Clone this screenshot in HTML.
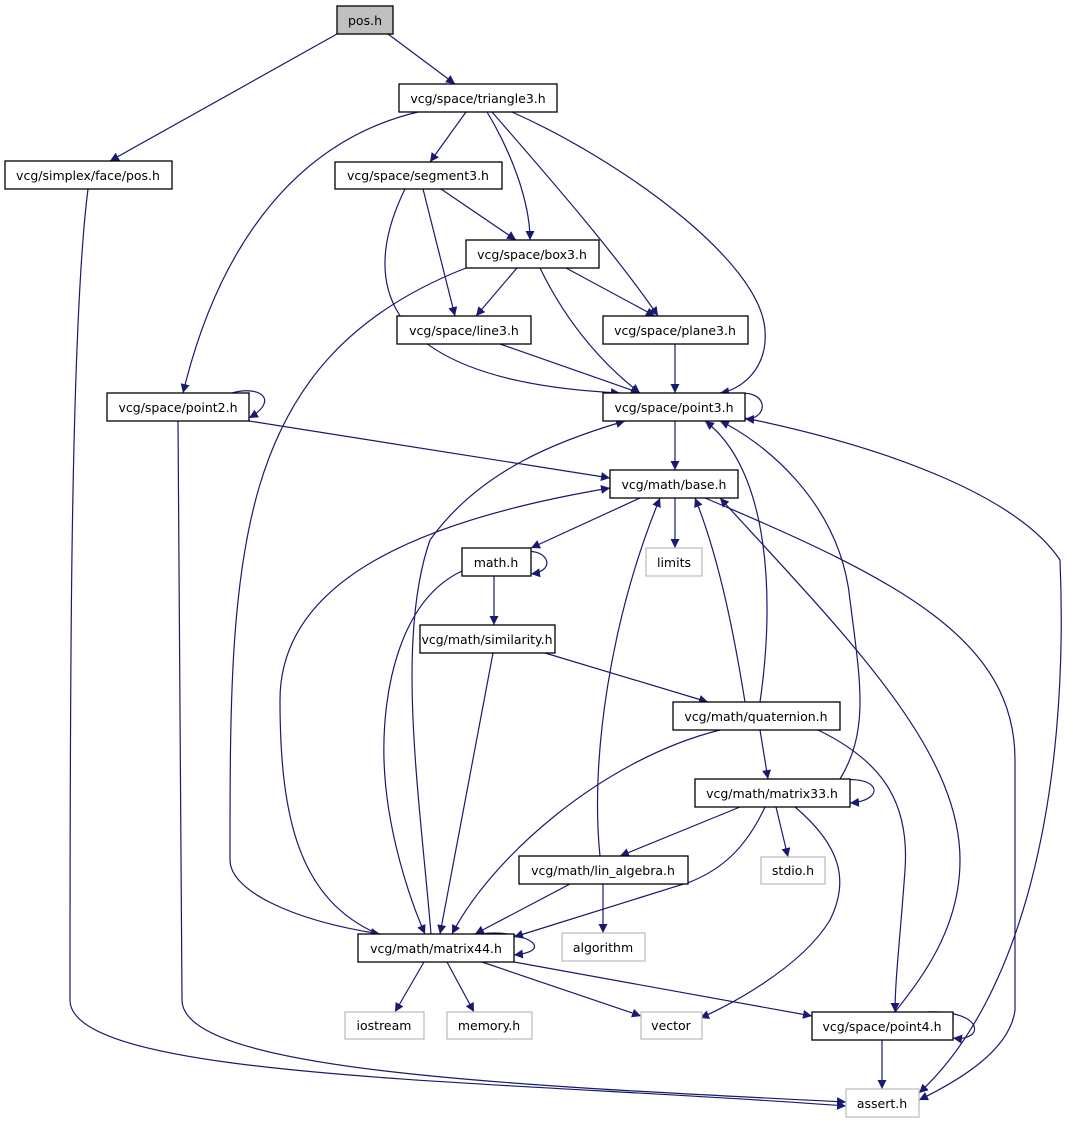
<!DOCTYPE html>
<html><head><meta charset="utf-8"><style>
html,body{margin:0;padding:0;background:#fff;}
svg{display:block;}
text{font-family:"DejaVu Sans","Liberation Sans",sans-serif;font-size:12.5px;fill:#000;text-anchor:middle;}
.n{fill:#fff;stroke:#000;stroke-width:1.3;}
.g{fill:#fff;stroke:#bfbfbf;stroke-width:1.3;}
.e{fill:none;stroke:#191970;stroke-width:1.2;marker-end:url(#a);}
</style></head><body>
<svg width="1071" height="1123" viewBox="0 0 1071 1123">
<defs><marker id="a" viewBox="0 0 10 10" refX="10" refY="5" markerWidth="9" markerHeight="9" markerUnits="userSpaceOnUse" orient="auto"><path d="M0,0 L10,5 L0,10 z" fill="#191970"/></marker></defs>

<!-- edges -->
<path class="e" d="M388,34 L455,84"/>
<path class="e" d="M337,34 L110,161"/>
<path class="e" d="M466,112 L430,162"/>
<path class="e" d="M418,112 C300,140 220,240 183,393"/>
<path class="e" d="M487,112 C510,150 530,200 530,240"/>
<path class="e" d="M492,112 C560,190 620,260 658,316"/>
<path class="e" d="M512,112 C620,160 760,260 765,330 C768,370 740,390 720,393"/>
<path class="e" d="M441,189 L516,240"/>
<path class="e" d="M423,189 L455,316"/>
<path class="e" d="M405,189 C370,260 350,380 620,393"/>
<path class="e" d="M517,268 L476,316"/>
<path class="e" d="M566,268 L655,316"/>
<path class="e" d="M540,268 C570,330 610,370 640,393"/>
<path class="e" d="M466,268 C230,360 230,560 230,860 C230,890 290,920 380,934"/>
<path class="e" d="M500,344 L640,393"/>
<path class="e" d="M675,344 L675,393"/>
<path class="e" d="M730,395 C770,385 770,420 745,419"/>
<path class="e" d="M675,421 L675,470"/>
<path class="e" d="M745,418 C900,450 1020,500 1060,560 C1070,800 1020,1000 919,1093"/>
<path class="e" d="M232,393 C260,385 280,400 249,418"/>
<path class="e" d="M249,421 L610,478"/>
<path class="e" d="M178,421 C180,600 180,820 182,1000 C182,1070 500,1085 846,1102"/>
<path class="e" d="M88,189 C70,330 70,700 70,1000 C70,1080 500,1080 846,1106"/>
<path class="e" d="M640,498 L531,548"/>
<path class="e" d="M675,498 L675,548"/>
<path class="e" d="M705,498 C900,580 1015,640 1015,760 L1015,1010 C1010,1050 960,1080 919,1100"/>
<path class="e" d="M520,553 C545,545 560,570 531,574"/>
<path class="e" d="M494,576 L494,625"/>
<path class="e" d="M462,571 C400,600 382,690 384,760 C386,830 410,900 425,934"/>
<path class="e" d="M545,653 L708,702"/>
<path class="e" d="M493,653 L440,934"/>
<path class="e" d="M720,730 C600,760 490,860 452,934"/>
<path class="e" d="M760,730 L768,779"/>
<path class="e" d="M818,730 C880,760 910,800 905,870 C900,940 895,980 895,1012"/>
<path class="e" d="M745,702 C735,640 720,560 695,498"/>
<path class="e" d="M760,702 C775,600 770,470 705,421"/>
<path class="e" d="M740,807 L620,856"/>
<path class="e" d="M776,807 L788,857"/>
<path class="e" d="M765,807 C745,850 720,870 690,882 L514,937"/>
<path class="e" d="M795,807 C840,845 850,880 830,920 C800,970 720,1010 700,1018"/>
<path class="e" d="M820,784 C880,768 890,800 850,803"/>
<path class="e" d="M840,779 C870,730 860,680 850,600 C840,500 760,440 720,421"/>
<path class="e" d="M570,884 L475,934"/>
<path class="e" d="M603,884 L603,933"/>
<path class="e" d="M600,856 C590,760 610,620 660,498"/>
<path class="e" d="M378,934 C300,900 280,820 280,700 C280,580 420,520 610,488"/>
<path class="e" d="M431,934 C420,800 395,640 430,540 C480,470 560,440 625,421"/>
<path class="e" d="M480,934 C520,928 560,950 514,955"/>
<path class="e" d="M424,962 L395,1012"/>
<path class="e" d="M447,962 L474,1012"/>
<path class="e" d="M482,962 L641,1016"/>
<path class="e" d="M514,962 L812,1016"/>
<path class="e" d="M928,1012 C985,1010 985,1042 953,1038"/>
<path class="e" d="M882,1040 L882,1089"/>
<path class="e" d="M895,1012 C920,980 960,930 960,860 C960,750 850,640 720,498"/>

<!-- nodes -->
<rect x="337" y="6" width="56" height="28" fill="#bfbfbf" stroke="#000" stroke-width="1.3"/><text x="365" y="25">pos.h</text>
<rect class="n" x="399" y="84" width="158" height="28"/><text x="478" y="103">vcg/space/triangle3.h</text>
<rect class="n" x="5" y="161" width="167" height="28"/><text x="88" y="180">vcg/simplex/face/pos.h</text>
<rect class="n" x="335" y="162" width="167" height="27"/><text x="418" y="180">vcg/space/segment3.h</text>
<rect class="n" x="466" y="240" width="133" height="28"/><text x="532" y="259">vcg/space/box3.h</text>
<rect class="n" x="397" y="316" width="134" height="28"/><text x="464" y="335">vcg/space/line3.h</text>
<rect class="n" x="603" y="316" width="145" height="28"/><text x="675" y="335">vcg/space/plane3.h</text>
<rect class="n" x="107" y="393" width="142" height="28"/><text x="178" y="412">vcg/space/point2.h</text>
<rect class="n" x="603" y="393" width="142" height="28"/><text x="674" y="412">vcg/space/point3.h</text>
<rect class="n" x="610" y="470" width="128" height="28"/><text x="674" y="489">vcg/math/base.h</text>
<rect class="n" x="462" y="548" width="69" height="28"/><text x="496" y="567">math.h</text>
<rect class="g" x="646" y="548" width="56" height="28"/><text x="674" y="567">limits</text>
<rect class="n" x="420" y="625" width="135" height="28"/><text x="487" y="644">vcg/math/similarity.h</text>
<rect class="n" x="673" y="702" width="167" height="28"/><text x="756" y="721">vcg/math/quaternion.h</text>
<rect class="n" x="695" y="779" width="155" height="28"/><text x="772" y="798">vcg/math/matrix33.h</text>
<rect class="n" x="519" y="856" width="169" height="28"/><text x="603" y="875">vcg/math/lin_algebra.h</text>
<rect class="g" x="761" y="857" width="64" height="27"/><text x="793" y="875">stdio.h</text>
<rect class="g" x="562" y="933" width="83" height="28"/><text x="603" y="952">algorithm</text>
<rect class="n" x="358" y="934" width="156" height="28"/><text x="436" y="953">vcg/math/matrix44.h</text>
<rect class="g" x="345" y="1012" width="79" height="27"/><text x="384" y="1030">iostream</text>
<rect class="g" x="447" y="1012" width="85" height="27"/><text x="489" y="1030">memory.h</text>
<rect class="g" x="641" y="1012" width="61" height="27"/><text x="671" y="1030">vector</text>
<rect class="n" x="812" y="1012" width="141" height="28"/><text x="882" y="1031">vcg/space/point4.h</text>
<rect class="g" x="846" y="1089" width="73" height="28"/><text x="882" y="1108">assert.h</text>
</svg>
</body></html>
